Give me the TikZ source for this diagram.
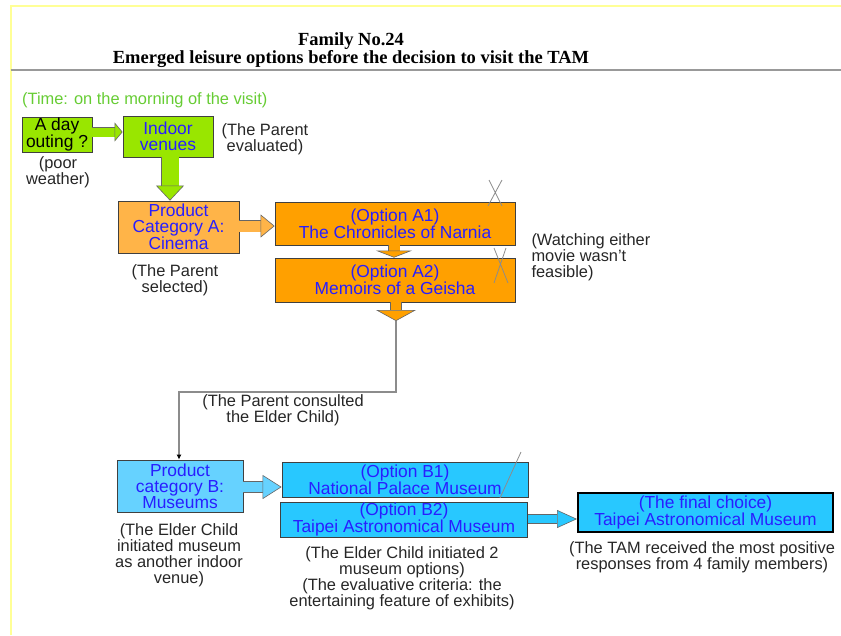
\documentclass[tikz,border=0pt]{standalone}
\usepackage{fontspec}
\setmainfont{Liberation Sans}
\newfontfamily\titlefont{Liberation Serif}
\usetikzlibrary{arrows.meta}

\definecolor{lime}{RGB}{153,230,0}
\definecolor{timegreen}{RGB}{102,204,51}
\definecolor{lightorange}{RGB}{255,180,72}
\definecolor{deeporange}{RGB}{255,160,0}
\definecolor{lightsky}{RGB}{102,210,255}
\definecolor{sky}{RGB}{40,200,255}
\definecolor{boxblue}{RGB}{40,30,255}
\definecolor{framey}{RGB}{255,255,150}

\begin{document}
\begin{tikzpicture}[x=1pt, y=-1pt,
    box/.style = {draw=black!75, line width=0.8pt, inner sep=0pt, align=center,
                  text=boxblue, font=\fontsize{17.4}{16}\selectfont},
    note/.style = {align=center, text=black!85, font=\fontsize{16.4}{16}\selectfont},
    blockarrow/.style n args = {4}{draw=black!60, line width=0.6pt, double=#1,
                  double distance=#2, -{Triangle[width=#3, length=#4, fill=#1, color=black!60, line width=0.6pt]}},
    link/.style = {draw=black!45, line width=1.2pt},
    cross/.style = {draw=black!45, line width=0.8pt}]
    \useasboundingbox (0,0) rectangle (841,635);

    \draw[framey, line width=2pt] (10.5,635) -- (10.5,6) -- (841,6);
    \draw[black!40, line width=2pt] (10.5,70) -- (841,70);

    \node[font=\titlefont\bfseries\fontsize{18.5}{17}\selectfont, align=center] (title) at (351,50)
        {Family No.24\\Emerged leisure options before the decision to visit the TAM};
    \node[note, text=timegreen, anchor=west, inner sep=0pt] (time) at (22,100)
        {(Time: on the morning of the visit)};

    \node[box, fill=lime, text=black, minimum width=70, minimum height=35] (day) at (57,134.5) {A day\\outing ?};
    \node[box, fill=lime, minimum width=90, minimum height=41] (indoor) at (168,136.5) {Indoor\\venues};
    \node[box, fill=lightorange, minimum width=121, minimum height=52] (cinema) at (178.5,227)
        {Product\\Category A:\\Cinema};
    \node[box, fill=deeporange, minimum width=240, minimum height=43] (optA1) at (395,223.5)
        {(Option A1)\\The Chronicles of Narnia};
    \node[box, fill=deeporange, minimum width=240, minimum height=44] (optA2) at (395,280)
        {(Option A2)\\Memoirs of a Geisha};
    \node[box, fill=lightsky, minimum width=126, minimum height=52] (museums) at (180,486)
        {Product\\category B:\\Museums};
    \node[box, fill=sky, minimum width=246, minimum height=35] (optB1) at (405,479.5)
        {(Option B1)\\National Palace Museum};
    \node[box, fill=sky, minimum width=247, minimum height=35] (optB2) at (404,519.5)
        {(Option B2)\\Taipei Astronomical Museum};
    \node[box, fill=sky, draw=black, line width=2pt, minimum width=255, minimum height=39] (final) at (705.5,512.5)
        {(The final choice)\\Taipei Astronomical Museum};

    \node[note] (weather) at (58,172) {(poor\\weather)};
    \node[note] (evaluated) at (265,139) {(The Parent\\evaluated)};
    \node[note] (selected) at (175,280) {(The Parent\\selected)};
    \node[note, anchor=west, align=left] (feasible) at (528,257) {(Watching either\\movie wasn't\\feasible)};
    \node[note] (consulted) at (283,410) {(The Parent consulted\\the Elder Child)};
    \node[note] (another) at (179,555) {(The Elder Child\\initiated museum\\as another indoor\\venue)};
    \node[note] (criteria) at (402,578) {(The Elder Child initiated 2\\museum options)\\(The evaluative criteria: the\\entertaining feature of exhibits)};
    \node[note] (responses) at (702,557) {(The TAM received the most positive\\responses from 4 family members)};

    \draw[blockarrow={lime}{9pt}{19pt}{8pt}] (day.east |- 0,132) -- (indoor.west |- 0,132);
    \draw[blockarrow={lime}{17pt}{28pt}{15pt}] (indoor.south -| 170,0) -- (cinema.north -| 170,0);
    \draw[blockarrow={lightorange}{11pt}{23pt}{14pt}] (cinema.east |- 0,226) -- (optA1.west |- 0,226);
    \draw[blockarrow={deeporange}{11pt}{36pt}{7pt}] (optA1.south -| 394,0) -- (optA2.north -| 394,0);
    \coordinate (turn) at (396,321);
    \coordinate (bend) at (396,392);
    \draw[blockarrow={deeporange}{10pt}{40pt}{11pt}] (optA2.south -| 396,0) -- (turn);
    \draw[link, -{Latex[length=5pt, width=5pt, black]}] (turn) -- (bend) -| (museums.north -| 179,0);
    \draw[blockarrow={lightsky}{10pt}{24pt}{19pt}] (museums.east |- 0,487) -- (optB1.west |- 0,487);
    \draw[blockarrow={sky}{8pt}{18pt}{20pt}] (optB2.east |- 0,519) -- (final.west |- 0,519);

    \draw[cross] (489,180) -- (502,206) (502,180) -- (488,206);
    \draw[cross] (494,248) -- (508,283) (506,248) -- (494,283);
    \draw[cross] (521,452) -- (500,498);
\end{tikzpicture}
\end{document}
